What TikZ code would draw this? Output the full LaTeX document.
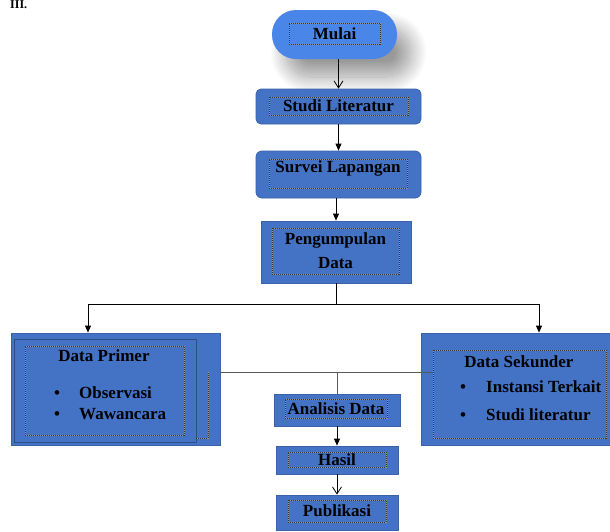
\documentclass[tikz,border=0pt]{standalone}
\usepackage{fontspec}
\setmainfont{Liberation Serif}
\usepackage{tikz}
\usetikzlibrary{arrows.meta,shadows.blur,calc}

\definecolor{biru}{HTML}{4472C4}
\definecolor{birutepi}{HTML}{3A62A8}
\definecolor{birumuda}{HTML}{4A86E8}

\tikzset{
  kotak/.style={rectangle, draw=birutepi, line width=0.8pt, fill=biru, inner sep=0pt},
  garistitik/.style={draw=black!80, dash pattern=on 1pt off 1pt, line width=1pt,
    preaction={draw=black!40, solid, line width=1pt}},
  titik/.style={rectangle, garistitik, inner sep=0pt, font=\bfseries\fontsize{17}{21}\selectfont, align=center},
  teks/.style={inner sep=0pt, font=\bfseries\fontsize{17}{21}\selectfont, align=left},
  panah/.style={-{Triangle[length=7pt,width=6pt]}, line width=0.8pt},
  panahbuka/.style={-{Straight Barb[length=7pt,width=9pt]}, line width=0.8pt},
  garisabu/.style={draw=black!65, line width=1pt},
}

\begin{document}
\begin{tikzpicture}[x=1pt,y=-1pt]
\useasboundingbox (0,0) rectangle (610,531);
\node (bab) [anchor=base west, inner sep=0pt, font=\bfseries\fontsize{12}{14}\selectfont] at (10,8) {III.};

% Mulai
\node (mulai) [kotak, draw=none, fill=birumuda, rounded corners=24pt, minimum width=125pt, minimum height=49pt,
  blur shadow={shadow xshift=14pt, shadow yshift=-18pt, shadow blur radius=16pt, shadow blur steps=20, shadow opacity=40}] at (334.5,34.5) {};
\node (mulaiT) [titik, minimum width=91pt, minimum height=21pt] at (334.5,33.5) {Mulai};

% Studi literatur dan survei
\node (studi) [kotak, rounded corners=5pt, minimum width=165pt, minimum height=35pt] at (338.5,106.5) {};
\node (studiT) [titik, minimum width=139pt, minimum height=18pt] at (338.5,106) {Studi Literatur};
\node (survei) [kotak, rounded corners=6pt, minimum width=165pt, minimum height=47pt] at (338.5,174.5) {};
\node (surveiT) [titik, minimum width=138pt, minimum height=29pt] at (338,173.5) {};
\node (surveiTeks) [teks] at (338,168) {Survei Lapangan};

% Pengumpulan data
\node (kumpul) [kotak, minimum width=150pt, minimum height=62pt] at (336,252) {};
\node (kumpulT) [titik, minimum width=127pt, minimum height=46pt, font=\bfseries\fontsize{17}{24}\selectfont] at (335.5,251) {Pengumpulan\\Data};

% Data primer
\node (primer) [kotak, minimum width=209pt, minimum height=112pt] at (115.5,389) {};
\node (primer2) [kotak, draw=birutepi!80!black, minimum width=182pt, minimum height=103pt] at (105,390.5) {};
\node (primerT) [titik, minimum width=159pt, minimum height=89pt] at (104.5,390.5) {};
\draw[garistitik] (196,438) -- (208,438) -- (208,372);
\node (primerJudul) [teks] at (104,356) {Data Primer};
\node (primerIsi) [teks, anchor=west] at (54,403.5)
  {\makebox[25pt][l]{\textbullet}Observasi\\\makebox[25pt][l]{\textbullet}Wawancara};

% Data sekunder
\node (sekunder) [kotak, minimum width=192pt, minimum height=112pt] at (517,389) {};
\node (sekunderT) [titik, minimum width=173pt, minimum height=88pt] at (519.5,394) {};
\node (sekunderJudul) [teks] at (519,362) {Data Sekunder};
\node (sekunderIsi) [teks, anchor=west, font=\bfseries\fontsize{17}{28}\selectfont] at (460,401)
  {\makebox[26pt][l]{\textbullet}Instansi Terkait\\\makebox[26pt][l]{\textbullet}Studi literatur};

% Analisis, hasil, publikasi
\node (analisis) [kotak, minimum width=126pt, minimum height=32pt] at (337,410) {};
\node (analisisT) [titik, minimum width=102pt, minimum height=19pt] at (336,408.5) {Analisis Data};
\node (hasil) [kotak, minimum width=122pt, minimum height=28pt] at (337,460) {};
\node (hasilT) [titik, minimum width=98pt, minimum height=15pt] at (337,459.5) {Hasil};
\node (publikasi) [kotak, minimum width=122pt, minimum height=35pt] at (337,512.5) {};
\node (publikasiT) [titik, minimum width=98pt, minimum height=22pt] at (337,511) {Publikasi};

% Alur
\draw[panahbuka] (studi.north |- mulai.south) -- (studi.north);
\draw[panah] (studi.south) -- (studi.south |- survei.north);
\draw[panah] (kumpul.north |- survei.south) -- (kumpul.north);
\draw[line width=0.8pt] (kumpul.south) -- ++(0,21) coordinate (cabang);
\draw[panah] (cabang) -| ([xshift=-27.5pt]primer.north);
\draw[panah] (cabang) -| ([xshift=22pt]sekunder.north);
\coordinate (gabung) at ([yshift=17pt]primer.east);
\draw[garisabu] (gabung) -- (gabung -| sekunderT.west);
\draw[garisabu] (gabung -| analisis.north) -- (analisis.north);
\draw[panah] (analisis.south) -- (hasil.north);
\draw[panahbuka] (hasil.south) -- (publikasi.north);
\end{tikzpicture}
\end{document}
